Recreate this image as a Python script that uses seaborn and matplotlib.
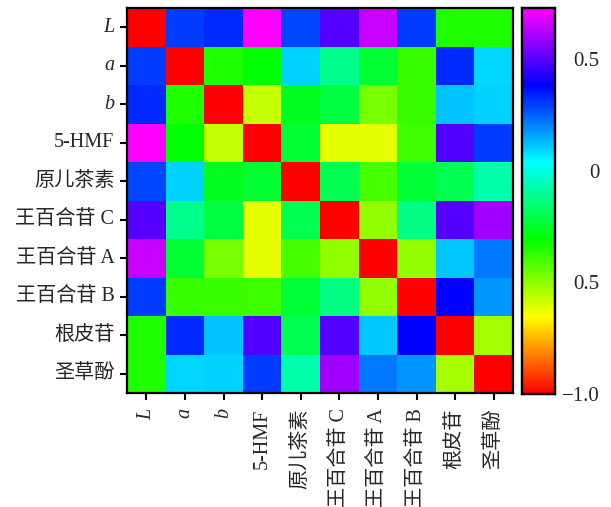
import colorsys
import numpy as np
import pandas as pd
import seaborn as sns
import matplotlib
matplotlib.use("Agg")
import matplotlib.pyplot as plt
from matplotlib.colors import ListedColormap

sns.set_theme(style="white")
plt.rcParams["font.family"] = ["Liberation Serif", "Noto Sans CJK SC"]
plt.rcParams["axes.unicode_minus"] = True

labels = ["L", "a", "b", "5-HMF", "原儿茶素", "王百合苷 C", "王百合苷 A",
          "王百合苷 B", "根皮苷", "圣草酚"]
italic_labels = {"L", "a", "b"}

row_L    = [-1.00,  0.30,  0.33,  0.73,  0.29,  0.50,  0.65,  0.30, -0.35, -0.35]
row_a    = [ 0.30, -1.00, -0.35, -0.31,  0.10, -0.12, -0.24, -0.38,  0.33,  0.09]
row_b    = [ 0.33, -0.35, -1.00, -0.57, -0.27, -0.22, -0.47, -0.38,  0.12,  0.10]
row_hmf  = [ 0.73, -0.31, -0.57, -1.00, -0.24, -0.62, -0.62, -0.39,  0.49,  0.30]
row_pca  = [ 0.29,  0.10, -0.27, -0.24, -1.00, -0.20, -0.40, -0.23, -0.20, -0.08]
row_c    = [ 0.50, -0.12, -0.22, -0.62, -0.20, -1.00, -0.50, -0.13,  0.50,  0.60]
row_aa   = [ 0.65, -0.24, -0.47, -0.62, -0.40, -0.50, -1.00, -0.50,  0.11,  0.22]
row_bb   = [ 0.30, -0.38, -0.38, -0.39, -0.23, -0.13, -0.50, -1.00,  0.38,  0.18]
row_phl  = [-0.35,  0.33,  0.12,  0.49, -0.20,  0.50,  0.11,  0.38, -1.00, -0.53]
row_erio = [-0.35,  0.09,  0.10,  0.30, -0.08,  0.60,  0.22,  0.18, -0.53, -1.00]

cbar_ticks = [0.5, 0.0, -0.5, -1.0]
cbar_ticklabels = ["0.5", "0", "0.5", "\u22121.0"]

matrix = pd.DataFrame(
    [row_L, row_a, row_b, row_hmf, row_pca, row_c, row_aa, row_bb, row_phl, row_erio],
    index=labels, columns=labels,
)

# rainbow map: hue runs from red (0 deg) to magenta (300 deg)
hues = np.linspace(0, 300 / 360, 256)
cmap = ListedColormap([colorsys.hsv_to_rgb(h, 1, 1) for h in hues])

fig = plt.figure(figsize=(6.11, 5.07), dpi=100)
ax = fig.add_axes([127 / 611, (507 - 393) / 507, 386 / 611, 385 / 507])
cax = fig.add_axes([522 / 611, (507 - 394) / 507, 33 / 611, 386 / 507])

sns.heatmap(matrix, ax=ax, cbar_ax=cax, cmap=cmap, vmin=-1.0, vmax=0.73,
            square=False, linewidths=0, cbar=True)

for spine in ax.spines.values():
    spine.set_visible(True)
    spine.set_color("black")
    spine.set_linewidth(1.6)

ax.tick_params(axis="both", which="both", direction="out", length=5, width=1.5,
               color="black", labelsize=14.5, pad=4)
ax.tick_params(axis="x", pad=6)
ax.tick_params(left=True, bottom=True)
ax.set_xticklabels(labels, rotation=90, va="top", ha="center")
ax.set_yticklabels(labels, rotation=0)
for t in ax.get_xticklabels() + ax.get_yticklabels():
    if t.get_text() in italic_labels:
        t.set_fontstyle("italic")
ax.set_xlabel("")
ax.set_ylabel("")

cax.set_yticks(cbar_ticks)
cax.set_yticklabels(cbar_ticklabels, ha="right")
cax.tick_params(axis="y", direction="in", length=4, width=1.5, color="black",
                left=True, right=True, labelleft=False, labelright=True,
                labelsize=15, pad=32)
for spine in cax.spines.values():
    spine.set_visible(True)
    spine.set_color("black")
    spine.set_linewidth(1.6)

fig.savefig("out.png", dpi=100)
